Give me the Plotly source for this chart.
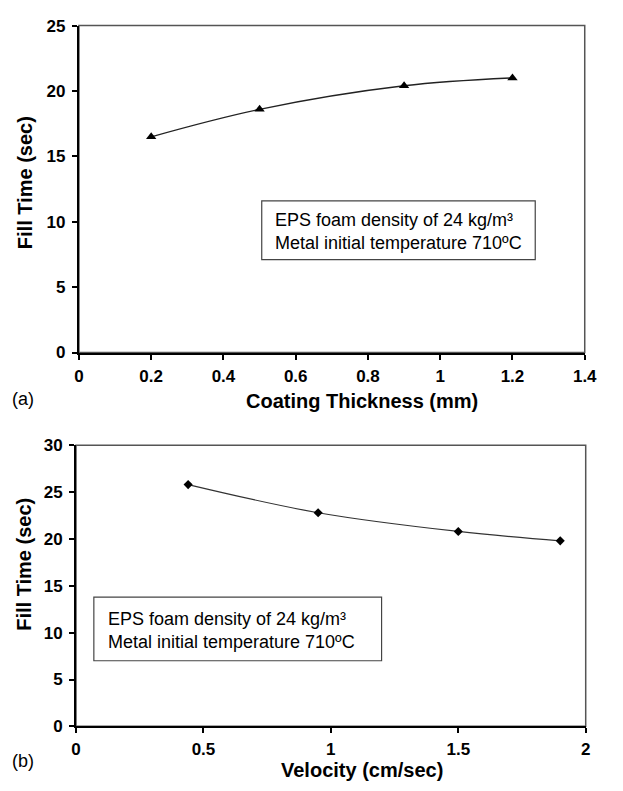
import plotly.graph_objects as go

# Data
thickness = [0.2, 0.5, 0.9, 1.2]
fill_a = [16.5, 18.6, 20.4, 21.0]
velocity = [0.44, 0.95, 1.5, 1.9]
fill_b = [25.8, 22.8, 20.8, 19.8]

xticks_a = [0, 0.2, 0.4, 0.6, 0.8, 1, 1.2, 1.4]
yticks_a = [0, 5, 10, 15, 20, 25]
xticks_b = [0, 0.5, 1, 1.5, 2]
yticks_b = [0, 5, 10, 15, 20, 25, 30]

W, H = 623, 791
FONT = "Arial, Liberation Sans, sans-serif"

def px(x):
    return x / W

def py(y):
    return 1 - y / H

def bold(vals):
    return [f"<b>{v:g}</b>" for v in vals]

fig = go.Figure()
fig.add_trace(go.Scatter(
    x=thickness, y=fill_a, mode="lines+markers",
    line=dict(color="#222", width=1.3, shape="spline"),
    marker=dict(symbol="triangle-up", size=9, color="black"),
    xaxis="x", yaxis="y", showlegend=False))
fig.add_trace(go.Scatter(
    x=velocity, y=fill_b, mode="lines+markers",
    line=dict(color="#333", width=1.2, shape="spline"),
    marker=dict(symbol="diamond", size=7, color="black"),
    xaxis="x2", yaxis="y2", showlegend=False))

axis_common = dict(
    showgrid=False, zeroline=False, showline=True, linecolor="black", linewidth=2,
    ticks="outside", ticklen=5, tickwidth=1.5, tickcolor="black",
    tickfont=dict(family=FONT, size=17, color="black", weight="bold"),
)

fig.update_layout(
    width=W, height=H, autosize=False,
    margin=dict(l=0, r=0, t=0, b=0),
    paper_bgcolor="white", plot_bgcolor="white",
    xaxis=dict(domain=[px(76), px(596)], range=[0, 1.4], anchor="y",
               tickvals=xticks_a, ticktext=bold(xticks_a),
               ticklabelstandoff=2, **axis_common),
    yaxis=dict(domain=[py(352), py(17)], range=[0, 25], anchor="x",
               tickvals=yticks_a, ticktext=bold(yticks_a),
               ticklabelstandoff=3, **axis_common),
    xaxis2=dict(domain=[px(73), px(597)], range=[0, 2], anchor="y2",
                tickvals=xticks_b, ticktext=bold(xticks_b),
                ticklabelstandoff=1, **axis_common),
    yaxis2=dict(domain=[py(735), py(447)], range=[0, 30], anchor="x2",
                tickvals=yticks_b, ticktext=bold(yticks_b),
                ticklabelstandoff=3, **axis_common),
)

# frames (top/right in gray)
for xr, yr in (("x", "y"), ("x2", "y2")):
    fig.add_shape(type="rect", xref=f"{xr} domain", yref=f"{yr} domain",
                  x0=0, x1=1, y0=0, y1=1, line=dict(color="#555", width=1.5),
                  layer="below")

# text boxes
fig.add_shape(type="rect", xref="x", yref="y", x0=0.506, x1=1.263, y0=7.1, y1=11.6,
              line=dict(color="#444", width=1.2))
fig.add_shape(type="rect", xref="x2", yref="y2", x0=0.07, x1=1.199, y0=7.0, y1=13.8,
              line=dict(color="#444", width=1.2))

box_text = "EPS foam density of 24 kg/m³<br>Metal initial temperature 710ºC"
fig.add_annotation(x=px(276), y=py(228), xref="paper", yref="paper", text=box_text,
                   showarrow=False, xanchor="left", yanchor="middle", align="left",
                   font=dict(family=FONT, size=18, color="black"))
fig.add_annotation(x=px(104), y=py(637), xref="paper", yref="paper", text=box_text,
                   showarrow=False, xanchor="left", yanchor="middle", align="left",
                   font=dict(family=FONT, size=18, color="black"))

title_font = dict(family=FONT, size=20, color="black", weight="bold")
fig.add_annotation(x=px(20), y=py(178), xref="paper", yref="paper", text="Fill Time (sec)",
                   showarrow=False, textangle=-90, xanchor="center", yanchor="middle",
                   font=title_font)
fig.add_annotation(x=px(20), y=py(569), xref="paper", yref="paper", text="Fill Time (sec)",
                   showarrow=False, textangle=-90, xanchor="center", yanchor="middle",
                   font=title_font)
fig.add_annotation(x=px(367), y=py(402), xref="paper", yref="paper",
                   text="Coating Thickness (mm)", showarrow=False,
                   xanchor="center", yanchor="middle", font=title_font)
fig.add_annotation(x=px(367), y=py(780), xref="paper", yref="paper",
                   text="Velocity (cm/sec)", showarrow=False,
                   xanchor="center", yanchor="middle", font=title_font)

lab_font = dict(family=FONT, size=18, color="black")
fig.add_annotation(x=px(19), y=py(400), xref="paper", yref="paper", text="(a)",
                   showarrow=False, xanchor="center", yanchor="middle", font=lab_font)
fig.add_annotation(x=px(19), y=py(770), xref="paper", yref="paper", text="(b)",
                   showarrow=False, xanchor="center", yanchor="middle", font=lab_font)

fig.write_html("out.html")
